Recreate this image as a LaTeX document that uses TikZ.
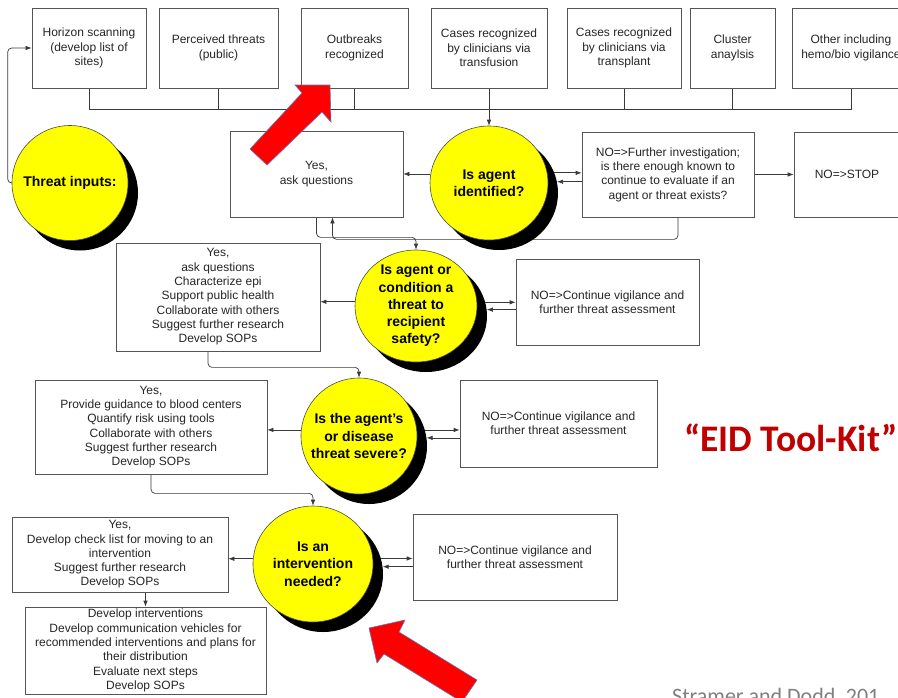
\documentclass[tikz,border=0pt]{standalone}
\usepackage{fontspec}
\setmainfont{Liberation Sans}
\newfontfamily\carlitofont{Carlito}
\usetikzlibrary{arrows.meta,backgrounds,calc,shapes.geometric}
\definecolor{boxline}{HTML}{555555}
\definecolor{txt}{HTML}{262626}
\definecolor{conline}{HTML}{3A3A3A}
\definecolor{eidred}{HTML}{C00000}
\definecolor{arrowedge}{HTML}{5A7AB8}
\definecolor{citegray}{HTML}{808080}
\definecolor{qyellow}{HTML}{FFFF00}
\begin{document}
\begin{tikzpicture}[x=1pt,y=-1pt,
 box/.style={draw=boxline, line width=0.7pt, fill=white, align=center, inner sep=0pt, text=txt, font=\fontsize{12}{14.3}\selectfont},
 qcirc/.style={ellipse, draw=black!70, line width=0.6pt, fill=qyellow, inner sep=0pt},
 qshadow/.style={ellipse, fill=black, inner sep=0pt},
 qtext/.style={align=center, font=\bfseries\fontsize{14}{17.3}\selectfont, text=black, inner sep=0pt},
 conn/.style={draw=conline, line width=0.7pt},
 arr/.style={conn, -{Latex[length=6pt,width=4.5pt]}},
 redarrow/.style={fill=red, draw=arrowedge, line width=0.6pt, line join=miter}
]
\useasboundingbox (0,0) rectangle (898,697);
\clip (0,0) rectangle (898,697);

% top row
\node[box, minimum width=114pt, minimum height=80pt] (B1) at (89,48) {Horizon scanning\\(develop list of\\sites)};
\node[box, minimum width=119pt, minimum height=80pt] (B2) at (218.5,48) {Perceived threats\\(public)};
\node[box, minimum width=107pt, minimum height=80pt] (B3) at (354.5,48) {Outbreaks\\recognized};
\node[box, minimum width=116pt, minimum height=80pt] (B4) at (489,48) {Cases recognized\\by clinicians via\\transfusion};
\node[box, minimum width=114pt, minimum height=80pt] (B5) at (624,48) {Cases recognized\\by clinicians via\\transplant};
\node[box, minimum width=85pt, minimum height=80pt] (B6) at (732.5,48) {Cluster\\anaylsis};
\node[box, minimum width=118pt, minimum height=80pt] (B7) at (851,48) {Other including\\hemo/bio vigilance};

% circles with shadows
\node[qshadow, minimum width=116pt, minimum height=115pt] (S0) at (80,193) {};
\node[qcirc, minimum width=116pt, minimum height=115pt] (C0) at (70,183) {};
\node[qtext] (T0) at (C0) {Threat inputs:};

\node[qshadow, minimum width=118pt, minimum height=114pt] (S1) at (499,193) {};
\node[qcirc, minimum width=118pt, minimum height=114pt] (C1) at (489,183) {};
\node[qtext] (T1) at (C1) {Is agent\\identified?};

\node[qshadow, minimum width=122pt, minimum height=112pt] (S2) at (426,316) {};
\node[qcirc, minimum width=122pt, minimum height=112pt] (C2) at (416,306) {};
\node[qtext] (T2) at (C2) {Is agent or\\condition a\\threat to\\recipient\\safety?};

\node[qshadow, minimum width=116pt, minimum height=116pt] (S3) at (369,446) {};
\node[qcirc, minimum width=116pt, minimum height=116pt] (C3) at (359,436) {};
\node[qtext] (T3) at (C3) {Is the agent’s\\or disease\\threat severe?};

\node[qshadow, minimum width=120pt, minimum height=116pt] (S4) at (323,574) {};
\node[qcirc, minimum width=120pt, minimum height=116pt] (C4) at (313,564) {};
\node[qtext] (T4) at (C4) {Is an\\intervention\\needed?};

% boxes
\node[box, minimum width=173pt, minimum height=86pt] (YB1) at (316.5,174) {Yes,\\ask questions};
\node[box, minimum width=172pt, minimum height=85pt] (NO1) at (668,174.5) {NO=>Further investigation;\\is there enough known to\\continue to evaluate if an\\agent or threat exists?};
\node[box, minimum width=106pt, minimum height=85pt] (STOP) at (847,174.5) {NO=>STOP};

\node[box, minimum width=204pt, minimum height=108pt] (YB2) at (218,297) {Yes,\\ask questions\\Characterize epi\\Support public health\\Collaborate with others\\Suggest further research\\Develop SOPs};
\node[box, minimum width=183pt, minimum height=86pt] (NR2) at (607.5,302) {NO=>Continue vigilance and\\further threat assessment};

\node[box, minimum width=232pt, minimum height=94pt] (YB3) at (151,427) {Yes,\\Provide guidance to blood centers\\Quantify risk using tools\\Collaborate with others\\Suggest further research\\Develop SOPs};
\node[box, minimum width=197pt, minimum height=87pt] (NR3) at (558.5,423.5) {NO=>Continue vigilance and\\further threat assessment};

\node[box, minimum width=216pt, minimum height=75pt] (YB4) at (120,554.5) {Yes,\\Develop check list for moving to an\\intervention\\Suggest further research\\Develop SOPs};
\node[box, minimum width=241pt, minimum height=87pt] (YI) at (145.5,650.5) {Develop interventions\\Develop communication vehicles for\\recommended interventions and plans for\\their distribution\\Evaluate next steps\\Develop SOPs};
\node[box, minimum width=204pt, minimum height=86pt] (NR4) at (515,557) {NO=>Continue vigilance and\\further threat assessment};

% connectors
\begin{pgfonlayer}{background}
\fill[white] (0,0) rectangle (898,697);
\draw[conn] (B1.south) -- ++(0,21) -| (B7.south);
\draw[conn] (B2.south) -- ++(0,21);
\draw[conn] (B3.south) -- ++(0,21);
\draw[conn] (B5.south) -- ++(0,21);
\draw[conn] (B6.south) -- ++(0,21);
\draw[arr] (B4.south) -- (C1.north);
\draw[arr, rounded corners=4pt] (C0.west) -- ++(-4,0) |- (B1.west);

\draw[arr] (C1.west |- YB1.east) -- (YB1.east);
\draw[arr] (S1.20) -- (S1.20 -| NO1.west);
\draw[arr] (S1.11 -| NO1.west) -- (S1.11);
\draw[arr] (NO1.east) -- (STOP.west);
\draw[arr, rounded corners=4pt] ([xshift=10pt]NO1.south) -- ++(0,22) -| ([xshift=16pt]YB1.south);
\draw[arr, rounded corners=4pt] (YB1.south) -- ++(0,20) -| (C2.north);

\draw[arr] (C2.176) -- (C2.176 -| YB2.east);
\draw[arr] (S2.13) -- (S2.13 -| NR2.west);
\draw[arr] (S2.6 -| NR2.west) -- (S2.6);
\draw[arr, rounded corners=4pt] ([xshift=-10pt]YB2.south) -- ++(0,16) -| (C3.north);

\draw[arr] (C3.174) -- (C3.174 -| YB3.east);
\draw[arr] (S3.16) -- (S3.16 -| NR3.west);
\draw[arr] (S3.8 -| NR3.west) -- (S3.8);
\draw[arr, rounded corners=4pt] (YB3.south) -- ++(0,19) -| (C4.north);

\draw[arr] (C4.175) -- (C4.175 -| YB4.east);
\draw[arr] (S4.15) -- (S4.15 -| NR4.west);
\draw[arr] (S4.7 -| NR4.west) -- (S4.7);
\draw[arr] (YI.north |- YB4.south) -- (YI.north);
\end{pgfonlayer}

% red arrows
\draw[redarrow] (250,149) -- (302,93) -- (295,85) -- (330,85) -- (331,122) -- (322,112) -- (267,165) -- cycle;
\draw[redarrow] (369,628) -- (405,620) -- (399,632) -- (477,680) -- (462,702) -- (384,654) -- (377,663) -- cycle;

% texts
\node[anchor=base west, font=\carlitofont\bfseries\fontsize{37.5}{37.5}\selectfont, text=eidred, inner sep=0pt] (eid) at (684,451) {“EID Tool-Kit”};
\node[anchor=base west, font=\carlitofont\fontsize{22}{22}\selectfont, text=citegray, inner sep=0pt] (cite) at (672,703) {Stramer and Dodd, 201};
\end{tikzpicture}
\end{document}
